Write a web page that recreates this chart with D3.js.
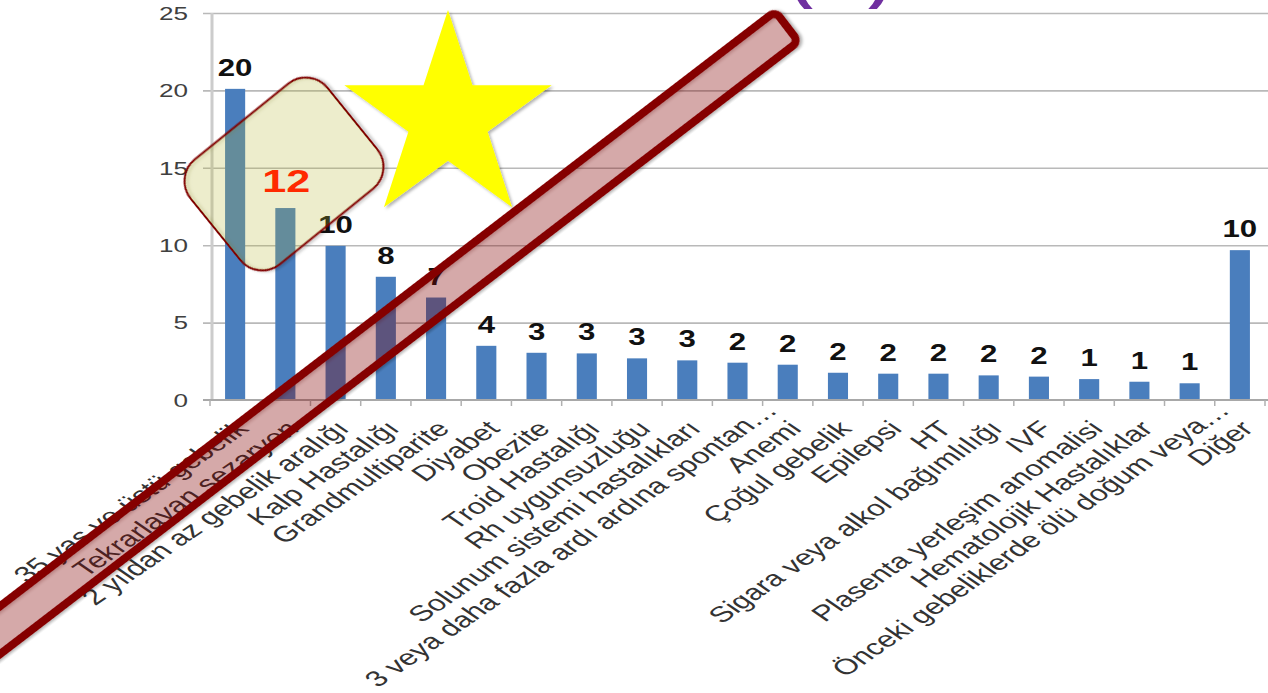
<!DOCTYPE html>
<html>
<head>
<meta charset="utf-8">
<script src="https://cdn.jsdelivr.net/npm/d3@7"></script>
<style>
  html, body { margin: 0; padding: 0; background: #ffffff; }
  svg { display: block; }
  text { font-family: "Liberation Sans", Arial, sans-serif; }
</style>
</head>
<body>
<div id="chart"></div>
<script>
// ---------- data ----------
const categories = [
  "35 yas ve üstü gebelik",
  "Tekrarlayan sezaryen",
  "2 yıldan az gebelik aralığı",
  "Kalp Hastalığı",
  "Grandmultiparite",
  "Diyabet",
  "Obezite",
  "Troid Hastalığı",
  "Rh uygunsuzluğu",
  "Solunum sistemi hastalıkları",
  "3 veya daha fazla ardı ardına spontan…",
  "Anemi",
  "Çoğul gebelik",
  "Epilepsi",
  "HT",
  "Sigara veya alkol bağımlılığı",
  "IVF",
  "Plasenta yerleşim anomalisi",
  "Hematolojik Hastalıklar",
  "Önceki gebeliklerde ölü doğum veya…",
  "Diğer"
];
const values = [20.1, 12.4, 9.96, 7.96, 6.62, 3.5, 3.05, 3.01, 2.69, 2.56, 2.41, 2.28,
                1.76, 1.7, 1.7, 1.59, 1.51, 1.35, 1.18, 1.08, 9.68];
const valueLabels = ["20","12","10","8","7","4","3","3","3","3","2","2","2","2","2","2","2","1","1","1","10"];
const yTicks = [0, 5, 10, 15, 20, 25];
const highlightIndex = 1;
const titleText = "(%)";

// ---------- layout ----------
const W = 1268, H = 693;
const plotLeft = 210, plotRight = 1265, plotTop = 13, plotBottom = 400;
const SX = 1.45; // horizontal stretch of the original picture

const svg = d3.select("#chart").append("svg").attr("width", W).attr("height", H);
const defs = svg.append("defs");
const f = defs.append("filter").attr("id", "shadow")
  .attr("x", "-20%").attr("y", "-20%").attr("width", "140%").attr("height", "140%");
f.append("feDropShadow").attr("dx", 2).attr("dy", 2).attr("stdDeviation", 1.5)
  .attr("flood-color", "#000").attr("flood-opacity", 0.3);

const x = d3.scaleBand().domain(categories).range([plotLeft, plotRight])
  .paddingInner(0.6).paddingOuter(0.3);
const y = d3.scaleLinear().domain([0, 25]).range([plotBottom, plotTop]);

// title (mostly above the visible area, as in the reference)
svg.append("text")
  .attr("transform", `translate(889,0) scale(${SX},1)`)
  .attr("text-anchor", "end")
  .attr("font-size", 43).attr("font-weight", "bold")
  .attr("fill", "#7030a0")
  .text(titleText);

// gridlines
const grid = svg.append("g").attr("transform", `translate(203,0)`)
  .call(d3.axisLeft(y).tickValues(yTicks.filter(t => t > 0)).tickSize(-(W - 203)).tickFormat(""));
grid.select(".domain").remove();
grid.selectAll(".tick line").attr("stroke", "#b9b9b9").attr("stroke-width", 1.6);

// y axis vertical line
svg.append("line")
  .attr("x1", 212).attr("x2", 212).attr("y1", y(25)).attr("y2", y(0))
  .attr("stroke", "#cccccc").attr("stroke-width", 3);

// y axis labels
const yAxis = svg.append("g").attr("transform", `translate(212,0)`)
  .call(d3.axisLeft(y).tickValues(yTicks).tickSize(0));
yAxis.select(".domain").remove();
yAxis.selectAll(".tick text")
  .attr("x", 0).attr("dy", "0.35em")
  .attr("transform", `translate(-24,0) scale(${SX},1)`)
  .attr("font-size", 18)
  .attr("font-family", "Liberation Sans, Arial, sans-serif")
  .attr("fill", "#404040");

// bars
svg.append("g").selectAll("rect").data(values).join("rect")
  .attr("x", (d, i) => x(categories[i]))
  .attr("width", x.bandwidth())
  .attr("y", d => y(d))
  .attr("height", d => y(0) - y(d))
  .attr("fill", "#4a7ebd");

// x axis line
svg.append("line")
  .attr("x1", 203).attr("x2", W).attr("y1", y(0)).attr("y2", y(0))
  .attr("stroke", "#a8a8a8").attr("stroke-width", 1.8);

// boundary tick marks
const step = x.step();
const boundaries = d3.range(categories.length + 1).map(i => x.range()[0] + i * step);
svg.append("g").selectAll("line").data(boundaries).join("line")
  .attr("x1", d => d).attr("x2", d => d)
  .attr("y1", y(0)).attr("y2", y(0) + 6)
  .attr("stroke", "#b0b0b0").attr("stroke-width", 1.5);

// x axis labels
const xAxis = svg.append("g").attr("transform", `translate(0,${y(0)})`)
  .call(d3.axisBottom(x).tickSize(0));
xAxis.select(".domain").remove();
xAxis.selectAll(".tick text")
  .attr("x", 0).attr("y", 0).attr("dy", 0)
  .attr("dx", d => d.endsWith("…") ? 26 : 0)
  .attr("transform", `translate(15,30) scale(${SX},1) rotate(-45)`)
  .style("text-anchor", "end")
  .attr("font-size", 22)
  .attr("font-family", "Liberation Sans, Arial, sans-serif")
  .attr("fill", "#333333");

// value labels (except highlighted)
const vl = svg.append("g");
values.forEach((v, i) => {
  if (i === highlightIndex) return;
  vl.append("text")
    .attr("transform", `translate(${x(categories[i]) + x.bandwidth() / 2},${y(v) - 13}) scale(1.3,1)`)
    .attr("text-anchor", "middle")
    .attr("font-size", 24).attr("font-weight", "bold")
    .attr("fill", "#111111")
    .text(valueLabels[i]);
});

// ---------- overlays ----------
// rounded square highlight
svg.append("rect")
  .attr("x", -88).attr("y", -67.5).attr("width", 176).attr("height", 135)
  .attr("rx", 28).attr("ry", 28)
  .attr("transform", "translate(284,174) rotate(-39)")
  .attr("fill", "#c8c83a").attr("fill-opacity", 0.2)
  .attr("stroke", "#800000").attr("stroke-width", 2)
  .attr("filter", "url(#shadow)");

// highlighted value label
svg.append("text")
  .attr("transform", `translate(${x(categories[highlightIndex]) + x.bandwidth() / 2 + 1},${y(values[highlightIndex]) - 16}) scale(1.35,1)`)
  .attr("text-anchor", "middle")
  .attr("font-size", 32).attr("font-weight", "bold")
  .attr("fill", "#ff2a00")
  .text(valueLabels[highlightIndex]);

// yellow star
const cx = 448, cy = 119, R = 109, r = R * 0.382;
const starPts = d3.range(10).map(k => {
  const a = -Math.PI / 2 + k * Math.PI / 5;
  const rr = k % 2 === 0 ? R : r;
  return [cx + rr * Math.cos(a), cy + rr * Math.sin(a)];
});
svg.append("polygon")
  .attr("points", starPts.map(p => p.join(",")).join(" "))
  .attr("fill", "#ffff00")
  .attr("filter", "url(#shadow)");

// diagonal band
svg.append("rect")
  .attr("x", -1200).attr("y", -19).attr("width", 1196).attr("height", 38)
  .attr("rx", 7).attr("ry", 7)
  .attr("transform", "translate(790,24) rotate(-37.5)")
  .attr("fill", "#8b0000").attr("fill-opacity", 0.28)
  .attr("stroke", "#850000").attr("stroke-width", 8)
  .attr("filter", "url(#shadow)");
</script>
</body>
</html>
